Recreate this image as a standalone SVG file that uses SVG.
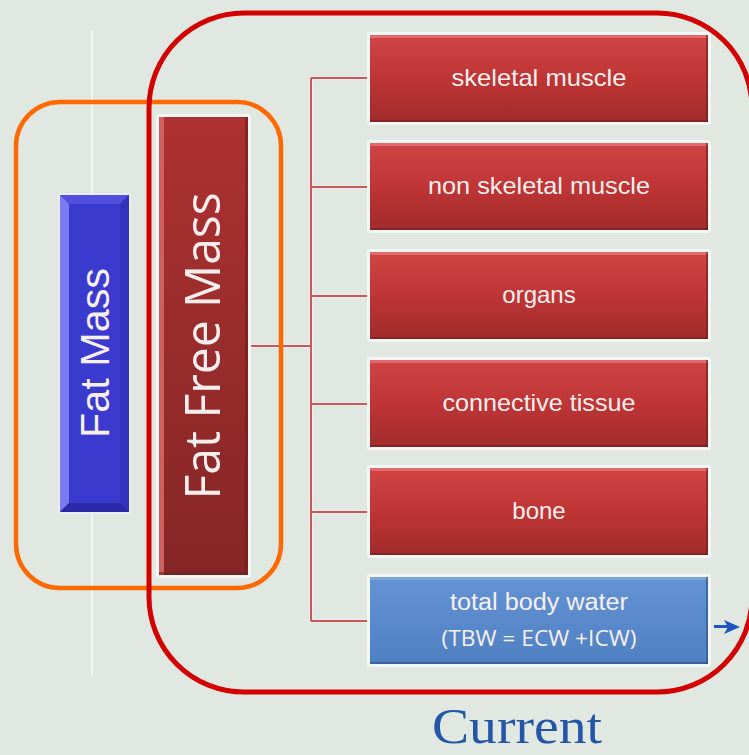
<svg xmlns="http://www.w3.org/2000/svg" width="749" height="755" viewBox="0 0 749 755">
<defs>
<linearGradient id="gRed" x1="0" y1="0" x2="0" y2="1">
<stop offset="0" stop-color="#d04444"/>
<stop offset="0.5" stop-color="#bf3535"/>
<stop offset="1" stop-color="#a12b2b"/>
</linearGradient>
<linearGradient id="gFFM" x1="0" y1="0" x2="0" y2="1">
<stop offset="0" stop-color="#ad3131"/>
<stop offset="1" stop-color="#852626"/>
</linearGradient>
<linearGradient id="gBlue" x1="0" y1="0" x2="0" y2="1">
<stop offset="0" stop-color="#6393d3"/>
<stop offset="1" stop-color="#4f80c2"/>
</linearGradient>
</defs>
<style>
.halo{fill:#f4f6f4;}
.box text,.lbl{font-family:"Liberation Sans",Arial,sans-serif;fill:#f8efef;text-anchor:middle;}
.box text.os{font-family:"Open Sans","DejaVu Sans",sans-serif;}
.conn{fill:none;stroke:#c8595b;stroke-width:2;}
.connh{fill:none;stroke:#f6eded;stroke-width:4;}
.hl{fill:#e26a6a;}
.sh{fill:#6e1e1e;opacity:0.6;}
</style>
<rect x="0" y="0" width="749" height="755" fill="#e1e8e1"/>
<line x1="92" y1="30" x2="92" y2="676" stroke="#ffffff" stroke-width="1.2"/>

<g id="connectors">
<path class="connh" d="M248,346 H311 M311,78 V621 M311,78 H371 M311,187 H371 M311,296 H371 M311,404 H371 M311,512 H371 M311,621 H371"/>
<path class="conn" d="M248,346 H311 M311,78 V621 M311,78 H371 M311,187 H371 M311,296 H371 M311,404 H371 M311,512 H371 M311,621 H371"/>
<path d="M714,626.5 H728" stroke="#1f55c0" stroke-width="3" fill="none"/>
<path d="M724,620 L740,627 L724,634 L728,627 Z" fill="#1f55c0"/>
</g>

<g id="orange-group">
<rect x="16" y="102" width="265" height="486" rx="44" ry="44" fill="none" stroke="#ff6a00" stroke-width="4.5"/>
</g>

<g id="red-group">
<path d="M244,13 H657 A95,95 0 0 1 752,108 V597 A95,95 0 0 1 657,692 H244 A95,95 0 0 1 149,597 V108 A95,95 0 0 1 244,13 Z" fill="none" stroke="#d20000" stroke-width="5"/>
</g>

<g id="fat-mass">
<rect x="58" y="193" width="73" height="321" fill="#eef0fb" opacity="0.7"/>
<rect x="60" y="195" width="69" height="317" fill="#3a3acf"/>
<polygon points="60,195 129,195 120,204 69,204" fill="#5050dc"/>
<polygon points="60,195 69,204 69,503 60,512" fill="#7a7af2"/>
<polygon points="129,195 129,512 120,503 120,204" fill="#3232bc"/>
<polygon points="60,512 129,512 120,503 69,503" fill="#2b2baa"/>
<text class="lbl" transform="translate(109,353) rotate(-90)" font-size="41" textLength="170" lengthAdjust="spacingAndGlyphs">Fat Mass</text>
</g>

<g id="fat-free-mass">
<rect x="156" y="114" width="95" height="464" rx="3" class="halo"/>
<rect x="159" y="117" width="89" height="458" fill="url(#gFFM)"/>
<rect x="159" y="117" width="5" height="458" fill="#d06060"/>
<rect x="245" y="117" width="3" height="458" class="sh"/>
<rect x="159" y="572" width="89" height="3" class="sh"/>
<text transform="translate(220,346) rotate(-90)" font-family="'Open Sans','DejaVu Sans',sans-serif" font-size="50" fill="#f6eeee" text-anchor="middle" textLength="307" lengthAdjust="spacingAndGlyphs">Fat Free Mass</text>
</g>

<g id="skeletal-muscle" class="box">
<rect x="367" y="32" width="344" height="93" rx="3" class="halo"/>
<rect x="370" y="35" width="338" height="87" fill="url(#gRed)"/>
<rect x="370" y="35" width="338" height="3" class="hl"/>
<rect x="706" y="35" width="2" height="87" class="sh"/>
<rect x="370" y="120" width="338" height="2" class="sh"/>
<text x="539" y="86" font-size="24" textLength="175" lengthAdjust="spacingAndGlyphs">skeletal muscle</text>
</g>

<g id="non-skeletal-muscle" class="box">
<rect x="367" y="140" width="344" height="93" rx="3" class="halo"/>
<rect x="370" y="143" width="338" height="87" fill="url(#gRed)"/>
<rect x="370" y="143" width="338" height="3" class="hl"/>
<rect x="706" y="143" width="2" height="87" class="sh"/>
<rect x="370" y="228" width="338" height="2" class="sh"/>
<text x="539" y="194" font-size="24" textLength="222" lengthAdjust="spacingAndGlyphs">non skeletal muscle</text>
</g>

<g id="organs" class="box">
<rect x="367" y="249" width="344" height="93" rx="3" class="halo"/>
<rect x="370" y="252" width="338" height="87" fill="url(#gRed)"/>
<rect x="370" y="252" width="338" height="3" class="hl"/>
<rect x="706" y="252" width="2" height="87" class="sh"/>
<rect x="370" y="337" width="338" height="2" class="sh"/>
<text x="539" y="303" font-size="24">organs</text>
</g>

<g id="connective-tissue" class="box">
<rect x="367" y="357" width="344" height="93" rx="3" class="halo"/>
<rect x="370" y="360" width="338" height="87" fill="url(#gRed)"/>
<rect x="370" y="360" width="338" height="3" class="hl"/>
<rect x="706" y="360" width="2" height="87" class="sh"/>
<rect x="370" y="445" width="338" height="2" class="sh"/>
<text x="539" y="411" font-size="24" textLength="193" lengthAdjust="spacingAndGlyphs">connective tissue</text>
</g>

<g id="bone" class="box">
<rect x="367" y="465" width="344" height="93" rx="3" class="halo"/>
<rect x="370" y="468" width="338" height="87" fill="url(#gRed)"/>
<rect x="370" y="468" width="338" height="3" class="hl"/>
<rect x="706" y="468" width="2" height="87" class="sh"/>
<rect x="370" y="553" width="338" height="2" class="sh"/>
<text x="539" y="519" font-size="24">bone</text>
</g>

<g id="total-body-water" class="box">
<rect x="367" y="574" width="344" height="93" rx="3" class="halo"/>
<rect x="370" y="577" width="338" height="87" fill="url(#gBlue)"/>
<rect x="370" y="577" width="338" height="3" fill="#7aa6e0"/>
<rect x="706" y="577" width="2" height="87" fill="#2e4f80" opacity="0.6"/>
<rect x="370" y="662" width="338" height="2" fill="#2e4f80" opacity="0.6"/>
<text x="539" y="610" font-size="23" textLength="178" lengthAdjust="spacingAndGlyphs">total body water</text>
<text class="os" x="539" y="646" font-size="22" textLength="195" lengthAdjust="spacingAndGlyphs">(TBW = ECW +ICW)</text>
</g>

<text x="517" y="743" font-family="'Liberation Serif','Times New Roman',serif" font-size="50" fill="#2356a6" text-anchor="middle" textLength="170" lengthAdjust="spacingAndGlyphs">Current</text>
</svg>
